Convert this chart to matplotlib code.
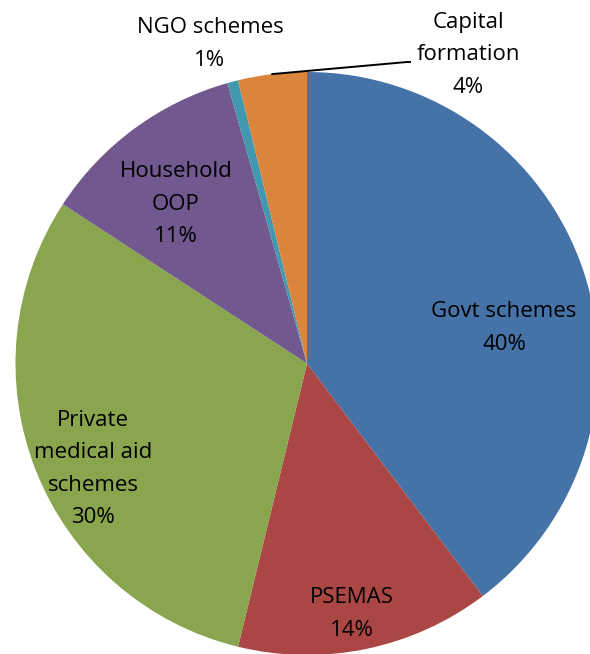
import numpy as np
import matplotlib
matplotlib.use("Agg")
import matplotlib.pyplot as plt

# health financing shares, clockwise from 12 o'clock
names = ["Govt schemes", "PSEMAS", "Private\nmedical aid\nschemes",
         "Household\nOOP", "NGO schemes", "Capital\nformation"]
shares = [39.7, 14.1, 30.4, 11.4, 0.6, 3.8]
colors = ["#4572A7", "#AA4643", "#89A54E", "#71588F", "#4198AF", "#DB843D"]

W, H = 590, 654
cx, cy, rad = 307, 363.5, 291.5   # pie centre / radius in pixels


def px(x, y):
    return (x - cx) / rad, (cy - y) / rad


fig = plt.figure(figsize=(W / 100, H / 100), dpi=100)
ax = fig.add_axes([0, 0, 1, 1])
wedges, _ = ax.pie(shares, colors=colors, startangle=90, counterclock=False,
                   radius=1, center=(0, 0), wedgeprops=dict(linewidth=0))
ax.set_xlim(-cx / rad, (W - cx) / rad)
ax.set_ylim(-(H - cy) / rad, cy / rad)
ax.set_aspect("auto")
ax.axis("off")

# label anchor points (pixel centres of the text blocks)
label_px = [(504, 328), (352, 614), (93, 469), (176, 204), (210, 44), (468, 55)]

for name, s, (lx, ly) in zip(names, shares, label_px):
    x, y = px(lx, ly)
    ax.text(x, y, f"{name}\n{s:.0f}%", ha="center", va="center",
            fontsize=16, family=["Open Sans", "DejaVu Sans"],
            linespacing=1.72, color="black")

# leader line for capital formation
w = wedges[-1]
mid = np.deg2rad((w.theta1 + w.theta2) / 2)
x0, y0 = np.cos(mid), np.sin(mid)
x1, y1 = px(407, 62)
x2, y2 = px(410, 62)
ax.plot([x0, x1, x2], [y0, y1, y2], color="black", lw=1.4)

fig.savefig("out.png", dpi=100)
